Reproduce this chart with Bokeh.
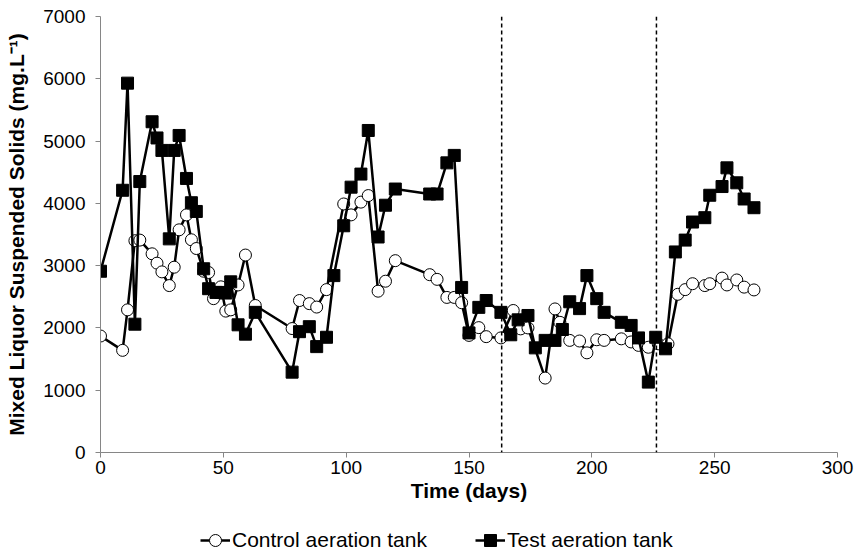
from bokeh.plotting import figure
from bokeh.layouts import column
from bokeh.models import Range1d, Legend, LegendItem, Span, FixedTicker
from bokeh.embed import file_html
from bokeh.resources import INLINE

# Mixed liquor suspended solids over time (mg/L)
control_days = [0, 9, 11, 14, 16, 21, 23, 25, 28, 30, 32, 35, 37, 39, 42, 44, 46, 49, 51, 53,
                56, 59, 63, 78, 81, 85, 88, 92, 99, 102, 106, 109, 113, 116, 120, 134, 137,
                141, 144, 147, 150, 154, 157, 163, 168, 171, 174, 181, 185, 187, 191, 195,
                198, 202, 205, 212, 216, 219, 223, 227, 231, 235, 238, 241, 246, 248, 253,
                255, 259, 262, 266]
control_mlss = [1870, 1640, 2290, 3400, 3410, 3190, 3040, 2900, 2680, 2975, 3575, 3815, 3415,
                3275, 2910, 2890, 2470, 2660, 2270, 2290, 2690, 3170, 2360, 1990, 2440, 2390,
                2335, 2615, 3990, 3815, 4020, 4125, 2590, 2750, 3080, 2855, 2780, 2490, 2490,
                2405, 1880, 2005, 1860, 1840, 2280, 1985, 2000, 1195, 2305, 2090, 1800, 1790,
                1600, 1810, 1800, 1825, 1775, 1720, 1690, 1745, 1745, 2540, 2615, 2710, 2680,
                2710, 2800, 2690, 2770, 2655, 2610]

test_days = [0, 9, 11, 14, 16, 21, 23, 25, 28, 30, 32, 35, 37, 39, 42, 44, 47, 49, 51, 53, 56,
             59, 63, 78, 81, 85, 88, 92, 95, 99, 102, 106, 109, 113, 116, 120, 134, 137, 141,
             144, 147, 150, 154, 157, 163, 167, 170, 174, 177, 181, 185, 188, 191, 195, 198,
             202, 205, 212, 216, 219, 223, 226, 230, 234, 238, 241, 246, 248, 253, 255, 259,
             262, 266]
test_mlss = [2910, 4210, 5930, 2060, 4350, 5310, 5050, 4850, 3430, 4850, 5090, 4400, 4010, 3870,
             2950, 2630, 2570, 2570, 2560, 2740, 2050, 1900, 2250, 1290, 1940, 2020, 1700, 1850,
             2840, 3640, 4260, 4470, 5170, 3460, 3970, 4230, 4150, 4150, 4650, 4770, 2650, 1920,
             2330, 2440, 2250, 1890, 2130, 2200, 1680, 1800, 1800, 1975, 2420, 2310, 2840, 2470,
             2250, 2090, 2040, 1840, 1130, 1850, 1665, 3220, 3410, 3700, 3770, 4130, 4270, 4570,
             4330, 4070, 3930]

# Days at which the operating phase changed
phase_changes = [163.3, 226.3]

x_ticks = [0, 50, 100, 150, 200, 250, 300]
y_ticks = [0, 1000, 2000, 3000, 4000, 5000, 6000, 7000]

series_labels = ["Control aeration tank", "Test aeration tank"]

FONT = "Liberation Sans"
AXIS_GREY = "#868686"

p = figure(width=855, height=514, output_backend="svg", toolbar_location=None,
           x_range=Range1d(0, 300), y_range=Range1d(0, 7000),
           min_border_left=100, min_border_right=18, min_border_top=16,
           min_border_bottom=62)
p.outline_line_color = None
p.grid.visible = False
p.background_fill_color = "white"
p.border_fill_color = "white"

for ax in (p.xaxis[0], p.yaxis[0]):
    ax.axis_line_color = AXIS_GREY
    ax.major_tick_line_color = AXIS_GREY
    ax.minor_tick_line_color = None
    ax.major_tick_out = 5
    ax.major_tick_in = 0
    ax.major_label_text_font = FONT
    ax.major_label_text_font_size = "19px"
    ax.major_label_text_color = "black"
    ax.axis_label_text_font = FONT
    ax.axis_label_text_font_style = "bold"
    ax.axis_label_text_font_size = "21px"
    ax.axis_label_text_color = "black"

p.xaxis.ticker = FixedTicker(ticks=x_ticks)
p.yaxis.ticker = FixedTicker(ticks=y_ticks)
p.xaxis.axis_label = "Time (days)"
p.yaxis.axis_label = "Mixed Liquor Suspended Solids (mg.L\u207b\u00b9)"
p.xaxis.major_label_standoff = 3
p.yaxis.major_label_standoff = 10
p.xaxis.axis_label_standoff = 2
p.yaxis.axis_label_standoff = 12

for day in phase_changes:
    p.add_layout(Span(location=day, dimension="height", line_color="black",
                      line_width=1.5, line_dash="4 3"))

line_style = dict(line_color="black", line_width=2.5)
circle_style = dict(marker="circle", size=12, fill_color="white", line_color="black", line_width=1)
square_style = dict(marker="square", size=12, fill_color="black", line_color="black")

p.line(control_days, control_mlss, **line_style)
p.scatter(control_days, control_mlss, **circle_style)
p.line(test_days, test_mlss, **line_style)
p.scatter(test_days, test_mlss, **square_style)

# Key strip under the chart. Its renderers carry the series but its ranges
# show none of them, so only the legend swatches appear.
key = figure(width=855, height=43, output_backend="svg", toolbar_location=None,
             x_axis_type=None, y_axis_type=None, min_border=0,
             x_range=Range1d(-2, -1), y_range=Range1d(-2, -1))
key.outline_line_color = None
key.grid.visible = False
key.border_fill_color = "white"
key.background_fill_color = "white"

kc_line = key.line(control_days, control_mlss, **line_style)
kc_pts = key.scatter(control_days, control_mlss, **circle_style)
kt_line = key.line(test_days, test_mlss, **line_style)
kt_pts = key.scatter(test_days, test_mlss, **square_style)

legend = Legend(items=[
    LegendItem(label=series_labels[0], renderers=[kc_line, kc_pts]),
    LegendItem(label=series_labels[1], renderers=[kt_line, kt_pts]),
], orientation="horizontal", location=(100, 2))
legend.border_line_color = None
legend.background_fill_alpha = 0
legend.label_text_font = FONT
legend.label_text_font_size = "21px"
legend.label_text_color = "black"
legend.label_standoff = 2
legend.label_width = 243
legend.label_height = 30
legend.glyph_width = 30
legend.glyph_height = 30
legend.spacing = 0
legend.padding = 0
legend.margin = 0
key.add_layout(legend, "center")

open("out.html", "w").write(file_html(column(p, key), INLINE))
